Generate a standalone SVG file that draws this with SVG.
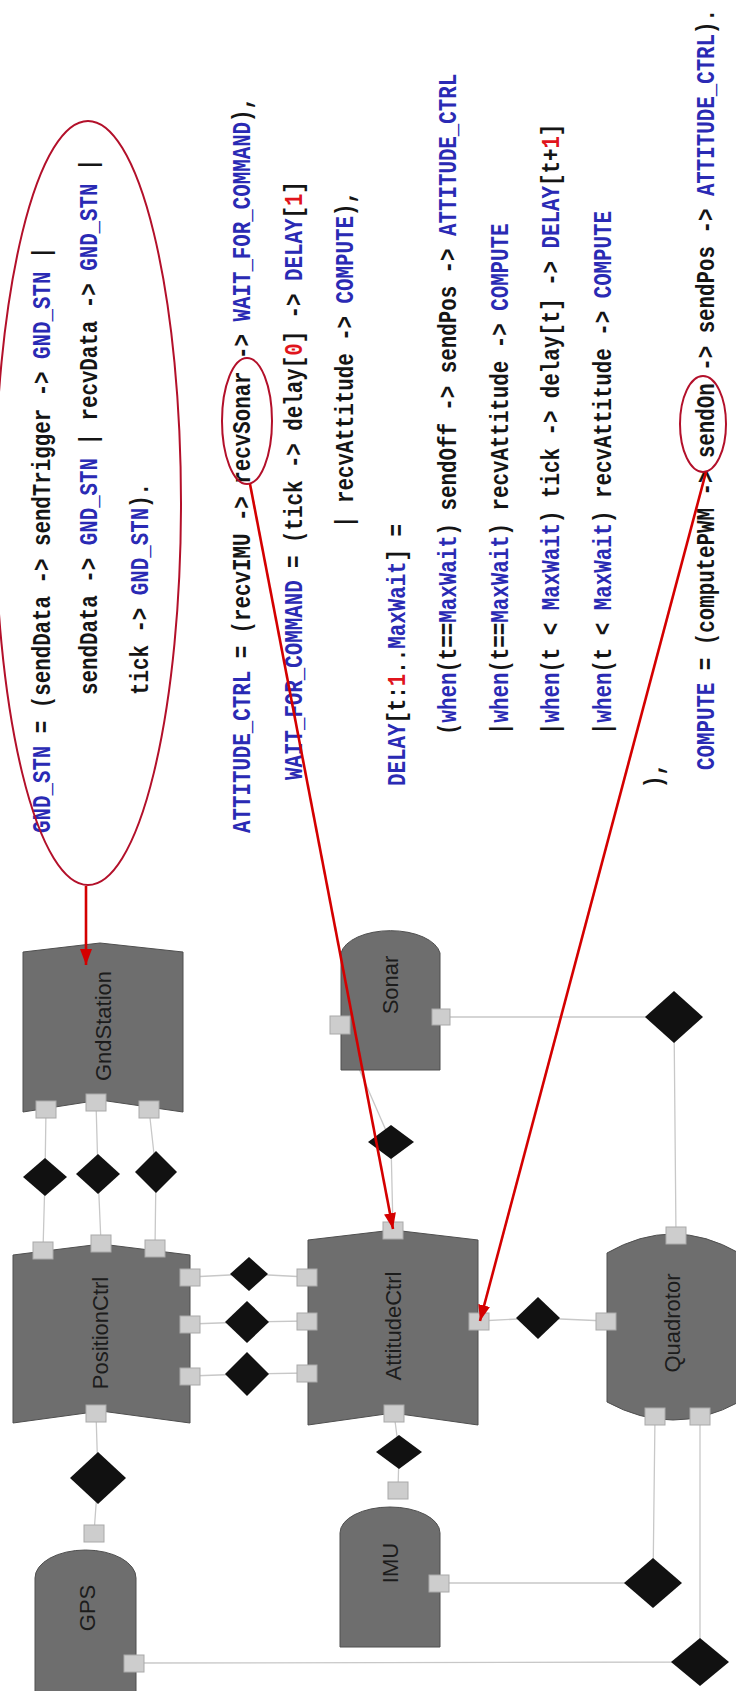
<svg xmlns="http://www.w3.org/2000/svg" width="736" height="1691" viewBox="0 0 736 1691">
  <style>
    .code { font-family: "Liberation Mono", "Courier New", monospace; font-size: 20.8px; font-weight: bold; fill: #151515; }
    .kw { fill: #2a2ab4; }
    .num { fill: #e0141c; }
    .node { fill: #6e6e6e; stroke: #4f4f4f; stroke-width: 1; }
    .port { fill: #cdcdcd; stroke: #a9a9a9; stroke-width: 1; }
    .rel { fill: #111111; }
    .wire { stroke: #c8c8c8; stroke-width: 1.3; fill: none; }
    .label { font-family: "Liberation Sans", Arial, sans-serif; font-size: 22px; fill: #1c1c1c; text-anchor: middle; }
    .note { fill: none; stroke: #b3102a; stroke-width: 2; }
    .arrow { stroke: #d40000; stroke-width: 2.6; fill: none; marker-end: url(#ah); }
  </style>
  <defs>
    <marker id="ah" markerUnits="userSpaceOnUse" markerWidth="16" markerHeight="12" viewBox="0 0 16 12" refX="16" refY="6" orient="auto">
      <path d="M0,0 L16,6 L0,12 z" fill="#d40000"/>
    </marker>
  </defs>
  <rect width="736" height="1691" fill="#ffffff"/>

  <!-- connectors: port -> relation diamond -> port -->
  <g id="connectors">
    <path class="wire" d="M46,1109 L45,1177 L43,1250"/>
    <path class="wire" d="M96,1102 L98,1174 L101,1243"/>
    <path class="wire" d="M149,1109 L156,1172 L155,1248"/>
    <path class="wire" d="M190,1277 L249,1274 L307,1277"/>
    <path class="wire" d="M190,1324 L247,1322 L307,1321"/>
    <path class="wire" d="M190,1376 L247,1374 L307,1373"/>
    <path class="wire" d="M479,1321 L538,1318 L606,1321"/>
    <path class="wire" d="M96,1413 L98,1478 L94,1533"/>
    <path class="wire" d="M394,1413 L399,1452 L398,1490"/>
    <path class="wire" d="M393,1230 L391,1142 L340,1025"/>
    <path class="wire" d="M441,1017 L674,1017 L676,1236"/>
    <path class="wire" d="M439,1583 L653,1583 L655,1416"/>
    <path class="wire" d="M134,1663 L700,1662 L700,1416"/>
  </g>

  <!-- actors -->
  <g id="gndstation">
    <path class="node" d="M23,952 L100,943 L183,952 L183,1112 L100,1100 L23,1112 Z"/>
    <text class="label" transform="translate(111,1026) rotate(-90)">GndStation</text>
    <rect class="port" x="36" y="1101" width="20" height="17"/>
    <rect class="port" x="86" y="1094" width="20" height="17"/>
    <rect class="port" x="139" y="1101" width="20" height="17"/>
  </g>
  <g id="positionctrl">
    <path class="node" d="M13,1255 L101,1244 L190,1255 L190,1423 L101,1411 L13,1423 Z"/>
    <text class="label" transform="translate(108,1333) rotate(-90)">PositionCtrl</text>
    <rect class="port" x="33" y="1242" width="20" height="17"/>
    <rect class="port" x="91" y="1235" width="20" height="17"/>
    <rect class="port" x="145" y="1240" width="20" height="17"/>
    <rect class="port" x="180" y="1269" width="20" height="17"/>
    <rect class="port" x="180" y="1316" width="20" height="17"/>
    <rect class="port" x="180" y="1368" width="20" height="17"/>
    <rect class="port" x="86" y="1405" width="20" height="17"/>
  </g>
  <g id="attitudectrl">
    <path class="node" d="M308,1240 L393,1230 L478,1240 L478,1425 L393,1413 L308,1425 Z"/>
    <text class="label" transform="translate(401,1326) rotate(-90)">AttitudeCtrl</text>
    <rect class="port" x="297" y="1269" width="20" height="17"/>
    <rect class="port" x="297" y="1313" width="20" height="17"/>
    <rect class="port" x="297" y="1365" width="20" height="17"/>
    <rect class="port" x="383" y="1222" width="20" height="17"/>
    <rect class="port" x="469" y="1313" width="20" height="17"/>
    <rect class="port" x="384" y="1405" width="20" height="17"/>
  </g>
  <g id="quadrotor">
    <path class="node" d="M607,1253 Q673,1215 739,1253 L739,1402 Q673,1438 607,1402 Z"/>
    <text class="label" transform="translate(680,1323) rotate(-90)">Quadrotor</text>
    <rect class="port" x="596" y="1313" width="20" height="17"/>
    <rect class="port" x="666" y="1227" width="20" height="17"/>
    <rect class="port" x="645" y="1408" width="20" height="17"/>
    <rect class="port" x="690" y="1408" width="20" height="17"/>
  </g>
  <g id="sonar">
    <path class="node" d="M341,1070 L341,953 A50,26 0 0 1 440,953 L440,1070 Z"/>
    <text class="label" transform="translate(398,985) rotate(-90)">Sonar</text>
    <rect class="port" x="330" y="1016" width="20" height="18"/>
    <rect class="port" x="432" y="1009" width="18" height="16"/>
  </g>
  <g id="imu">
    <path class="node" d="M340,1647 L340,1533 A50,26 0 0 1 440,1533 L440,1647 Z"/>
    <text class="label" transform="translate(398,1563) rotate(-90)">IMU</text>
    <rect class="port" x="388" y="1482" width="20" height="17"/>
    <rect class="port" x="429" y="1575" width="20" height="17"/>
  </g>
  <g id="gps">
    <path class="node" d="M35,1700 L35,1578 A50.5,28 0 0 1 136,1578 L136,1700 Z"/>
    <text class="label" transform="translate(95,1608) rotate(-90)">GPS</text>
    <rect class="port" x="84" y="1525" width="20" height="17"/>
    <rect class="port" x="124" y="1655" width="20" height="17"/>
  </g>

  <!-- relations -->
  <g id="relations">
    <polygon class="rel" points="45,1158 67,1177 45,1196 23,1177"/>
    <polygon class="rel" points="98,1154 120,1174 98,1194 76,1174"/>
    <polygon class="rel" points="156,1151 177,1172 156,1193 135,1172"/>
    <polygon class="rel" points="249,1257 268,1274 249,1291 230,1274"/>
    <polygon class="rel" points="247,1301 269,1322 247,1343 225,1322"/>
    <polygon class="rel" points="247,1352 269,1374 247,1396 225,1374"/>
    <polygon class="rel" points="538,1297 560,1318 538,1339 516,1318"/>
    <polygon class="rel" points="98,1452 126,1478 98,1504 70,1478"/>
    <polygon class="rel" points="399,1435 422,1452 399,1469 376,1452"/>
    <polygon class="rel" points="391,1125 414,1142 391,1159 368,1142"/>
    <polygon class="rel" points="674,991 703,1017 674,1043 645,1017"/>
    <polygon class="rel" points="653,1558 682,1583 653,1608 624,1583"/>
    <polygon class="rel" points="700,1638 729,1662 700,1686 671,1662"/>
  </g>

  <!-- FSP process listing -->
  <g id="listing" class="code">
    <text transform="translate(50,833) rotate(-90) scale(1,1.25)"><tspan class="kw">GND_STN</tspan> = (sendData -&gt; sendTrigger -&gt; <tspan class="kw">GND_STN</tspan> |</text>
    <text transform="translate(97,695) rotate(-90) scale(1,1.25)">sendData -&gt; <tspan class="kw">GND_STN</tspan> | recvData -&gt; <tspan class="kw">GND_STN</tspan> |</text>
    <text transform="translate(148,695) rotate(-90) scale(1,1.25)">tick -&gt; <tspan class="kw">GND_STN</tspan>).</text>
    <text transform="translate(250,833) rotate(-90) scale(1,1.25)"><tspan class="kw">ATTITUDE_CTRL</tspan> = (recvIMU -&gt; recvSonar -&gt; <tspan class="kw">WAIT_FOR_COMMAND</tspan>),</text>
    <text transform="translate(301.5,780) rotate(-90) scale(1,1.25)"><tspan class="kw">WAIT_FOR_COMMAND</tspan> = (tick -&gt; delay[<tspan class="num">0</tspan>] -&gt; <tspan class="kw">DELAY</tspan>[<tspan class="num">1</tspan>]</text>
    <text transform="translate(353,528) rotate(-90) scale(1,1.25)">| recvAttitude -&gt; <tspan class="kw">COMPUTE</tspan>),</text>
    <text transform="translate(404.5,786) rotate(-90) scale(1,1.25)"><tspan class="kw">DELAY</tspan>[t:<tspan class="num">1</tspan>..<tspan class="kw">MaxWait</tspan>] =</text>
    <text transform="translate(456,735) rotate(-90) scale(1,1.25)">(<tspan class="kw">when</tspan>(t==<tspan class="kw">MaxWait</tspan>) sendOff -&gt; sendPos -&gt; <tspan class="kw">ATTITUDE_CTRL</tspan></text>
    <text transform="translate(507.5,735) rotate(-90) scale(1,1.25)">|<tspan class="kw">when</tspan>(t==<tspan class="kw">MaxWait</tspan>) recvAttitude -&gt; <tspan class="kw">COMPUTE</tspan></text>
    <text transform="translate(559,735) rotate(-90) scale(1,1.25)">|<tspan class="kw">when</tspan>(t &lt; <tspan class="kw">MaxWait</tspan>) tick -&gt; delay[t] -&gt; <tspan class="kw">DELAY</tspan>[t+<tspan class="num">1</tspan>]</text>
    <text transform="translate(610.5,735) rotate(-90) scale(1,1.25)">|<tspan class="kw">when</tspan>(t &lt; <tspan class="kw">MaxWait</tspan>) recvAttitude -&gt; <tspan class="kw">COMPUTE</tspan></text>
    <text transform="translate(662,788) rotate(-90) scale(1,1.25)">),</text>
    <text transform="translate(713.5,770) rotate(-90) scale(1,1.25)"><tspan class="kw">COMPUTE</tspan> = (computePWM -&gt; sendOn -&gt; sendPos -&gt; <tspan class="kw">ATTITUDE_CTRL</tspan>).</text>
  </g>

  <!-- red callouts linking the listing to the model -->
  <g id="callouts">
    <ellipse class="note" cx="88" cy="503" rx="93" ry="382"/>
    <path class="arrow" d="M86,886 L86,965"/>
    <ellipse class="note" cx="247" cy="421" rx="25" ry="63"/>
    <path class="arrow" d="M250,484 L393,1229"/>
    <ellipse class="note" cx="703" cy="424" rx="23" ry="48"/>
    <path class="arrow" d="M706,472 L480,1321"/>
  </g>
</svg>
